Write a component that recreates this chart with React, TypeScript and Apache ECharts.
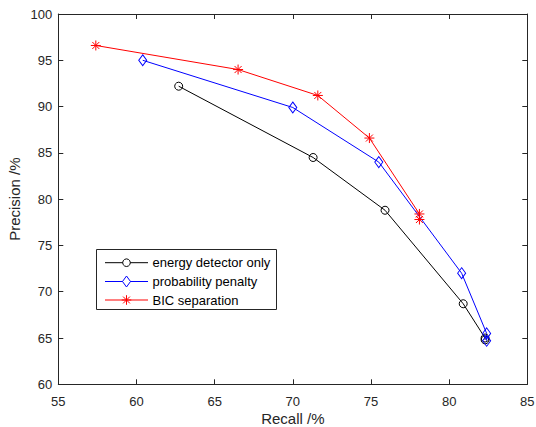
import React, { useEffect, useRef } from "react";
import * as echarts from "echarts";

const xTicks = [55, 85, 5]; // min, max, interval
const yTicks = [60, 100, 5];

const seriesNames = ["energy detector only", "probability penalty", "BIC separation"];

const recallEnergy = [62.7, 71.3, 75.9, 80.9, 82.3, 82.3];
const precisionEnergy = [92.2, 84.5, 78.8, 68.7, 65.0, 64.8];

const recallPenalty = [60.4, 70.0, 75.5, 80.8, 82.4, 82.4];
const precisionPenalty = [95.0, 89.9, 84.0, 72.0, 65.5, 64.7];

const recallBic = [57.4, 66.5, 71.6, 74.9, 78.1, 78.1];
const precisionBic = [96.6, 94.0, 91.2, 86.6, 78.4, 77.8];

const FONT = "'Liberation Sans', Arial, Helvetica, sans-serif";
const AX = "#262626";
const COLORS = ["#000000", "#0000ff", "#ff0000"];

function pairs(xs: number[], ys: number[]) {
  return xs.map((x, i) => [x, ys[i]]);
}

const asterisk = "path://M5,0L5,10M0,5L10,5M1.5,1.5L8.5,8.5M1.5,8.5L8.5,1.5";
const diamond = "path://M4,0L8,5.5L4,11L0,5.5Z";

function legendGraphic() {
  const bx = 96.5;
  const by = 249.5;
  const bw = 180;
  const bh = 60;
  const rowsY = [262.7, 281.5, 300];
  const lx1 = 105;
  const lx2 = 148;
  const mx = 126.5;
  const children: any[] = [
    {
      type: "rect",
      shape: { x: bx, y: by, width: bw, height: bh },
      style: { fill: "#ffffff", stroke: AX, lineWidth: 1 },
    },
  ];
  rowsY.forEach((y, i) => {
    children.push({
      type: "line",
      shape: { x1: lx1, y1: y, x2: lx2, y2: y },
      style: { stroke: COLORS[i], lineWidth: 1 },
    });
    if (i === 0) {
      children.push({
        type: "circle",
        shape: { cx: mx, cy: y, r: 3.8 },
        style: { fill: "#ffffff", stroke: COLORS[i], lineWidth: 1 },
      });
    } else if (i === 1) {
      children.push({
        type: "polygon",
        shape: { points: [[mx, y - 5.5], [mx + 4, y], [mx, y + 5.5], [mx - 4, y]] },
        style: { fill: "#ffffff", stroke: COLORS[i], lineWidth: 1 },
      });
    } else {
      const r = 4.8;
      const d = 3.4;
      [
        [mx, y - r, mx, y + r],
        [mx - r, y, mx + r, y],
        [mx - d, y - d, mx + d, y + d],
        [mx - d, y + d, mx + d, y - d],
      ].forEach((s) =>
        children.push({
          type: "line",
          shape: { x1: s[0], y1: s[1], x2: s[2], y2: s[3] },
          style: { stroke: COLORS[i], lineWidth: 1 },
        })
      );
    }
    children.push({
      type: "text",
      x: 152.5,
      y: y,
      style: {
        text: seriesNames[i],
        fill: "#000000",
        font: `13px ${FONT}`,
        verticalAlign: "middle",
        align: "left",
      },
    });
  });
  return [{ type: "group", children, z: 100 }];
}

function lineSeries(name: string, data: number[][], color: string, z: number) {
  return {
    name,
    type: "line",
    data,
    showSymbol: false,
    symbol: "none",
    lineStyle: { color, width: 1 },
    itemStyle: { color },
    emphasis: { disabled: true },
    silent: true,
    z,
  };
}

function markerSeries(name: string, data: number[][], color: string, symbol: string, size: any, fill: string, z: number) {
  return {
    name,
    type: "scatter",
    data,
    symbol,
    symbolSize: size,
    itemStyle: { color: fill, borderColor: color, borderWidth: 1, opacity: 1 },
    emphasis: { disabled: true },
    silent: true,
    z,
  };
}

export default function App() {
  const ref = useRef<HTMLDivElement>(null);
  useEffect(() => {
    if (!ref.current) return;
    const chart = echarts.init(ref.current, undefined, { renderer: "svg" });
    const axisCommon = {
      type: "value" as const,
      axisLine: { show: true, lineStyle: { color: AX, width: 1 } },
      axisTick: { show: true, inside: true, length: 5, lineStyle: { color: AX } },
      splitLine: { show: false },
    };
    chart.setOption({
      animation: false,
      backgroundColor: "#ffffff",
      textStyle: { fontFamily: FONT },
      grid: {
        left: 58.3,
        top: 14,
        right: 8.7,
        bottom: 42.7,
        containLabel: false,
        outerBoundsMode: "none",
      },
      xAxis: [
        {
          ...axisCommon,
          position: "bottom",
          min: xTicks[0],
          max: xTicks[1],
          interval: xTicks[2],
          name: "Recall /%",
          nameLocation: "middle",
          nameGap: 27,
          nameMoveOverlap: false,
          nameTextStyle: { fontSize: 15, lineHeight: 15, color: AX, fontFamily: FONT },
          axisLabel: { fontSize: 13, color: AX, margin: 11, fontFamily: FONT },
        },
        {
          ...axisCommon,
          position: "top",
          min: xTicks[0],
          max: xTicks[1],
          interval: xTicks[2],
          axisLabel: { show: false },
        },
      ],
      yAxis: [
        {
          ...axisCommon,
          position: "left",
          min: yTicks[0],
          max: yTicks[1],
          interval: yTicks[2],
          name: "Precision /%",
          nameLocation: "middle",
          nameGap: 36,
          nameMoveOverlap: false,
          nameTextStyle: { fontSize: 15, color: AX, fontFamily: FONT },
          axisLabel: { fontSize: 13, color: AX, margin: 6, fontFamily: FONT },
        },
        {
          ...axisCommon,
          position: "right",
          min: yTicks[0],
          max: yTicks[1],
          interval: yTicks[2],
          axisLabel: { show: false },
        },
      ],
      graphic: legendGraphic(),
      series: [
        lineSeries(seriesNames[0], pairs(recallEnergy, precisionEnergy), COLORS[0], 2),
        lineSeries(seriesNames[1], pairs(recallPenalty, precisionPenalty), COLORS[1], 3),
        lineSeries(seriesNames[2], pairs(recallBic, precisionBic), COLORS[2], 4),
        markerSeries(seriesNames[0], pairs(recallEnergy, precisionEnergy), COLORS[0], "circle", 8, "rgba(255,255,255,0)", 5),
        markerSeries(seriesNames[1], pairs(recallPenalty, precisionPenalty), COLORS[1], diamond, [8, 11], "rgba(255,255,255,0)", 6),
        markerSeries(seriesNames[2], pairs(recallBic, precisionBic), COLORS[2], asterisk, 10, "rgba(255,0,0,0)", 7),
      ],
    });
    return () => chart.dispose();
  }, []);
  return (
    <div
      ref={ref}
      style={{ position: "fixed", left: 0, top: 0, width: 536, height: 427, background: "#fff" }}
    />
  );
}
